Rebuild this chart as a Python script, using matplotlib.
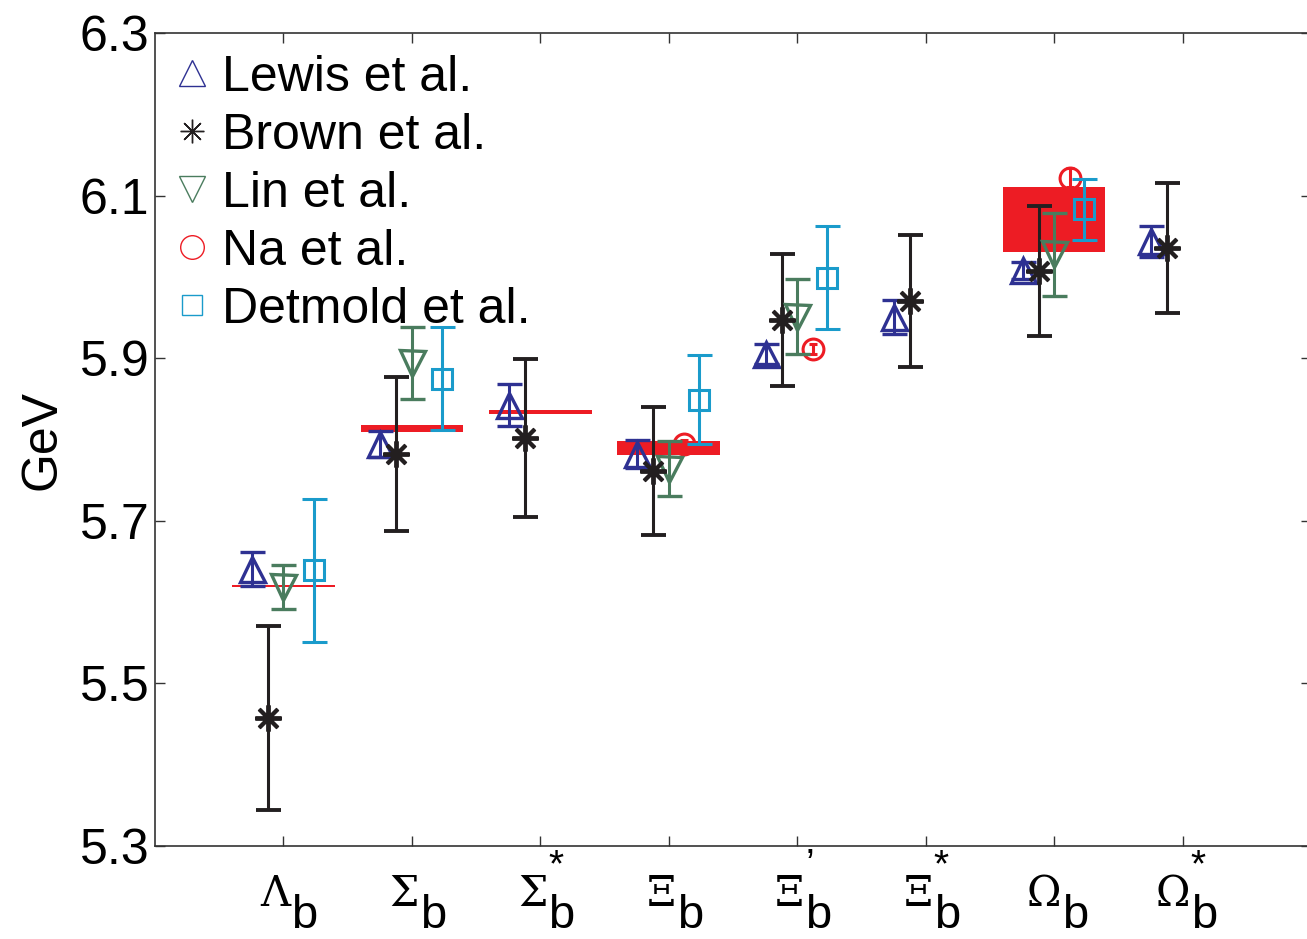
import numpy as np
import matplotlib
matplotlib.use("Agg")
import matplotlib.pyplot as plt
from matplotlib.lines import Line2D

plt.rcParams['font.family'] = ['Liberation Sans', 'DejaVu Sans']

# Baryon categories (Greek letter, superscript mark)
greek = ['Λ', 'Σ', 'Σ', 'Ξ', 'Ξ', 'Ξ', 'Ω', 'Ω']
marks = ['', '', '*', '', '’', '*', '', '*']
pos = np.arange(1, 9)

# Lattice results (GeV): value and uncertainty; NaN where no result
lewis_val = [5.641, 5.795, 5.842, 5.782, 5.905, 5.951, 6.008, 6.044]
lewis_err = [0.021, 0.016, 0.026, 0.017, 0.012, 0.021, 0.010, 0.019]

brown_val = [5.457, 5.782, 5.802, 5.761, 5.947, 5.970, 6.007, 6.036]
brown_err = [0.113, 0.095, 0.097, 0.079, 0.081, 0.081, 0.080, 0.080]

lin_val = [5.619, 5.894, np.nan, 5.764, 5.951, np.nan, 6.028, np.nan]
lin_err = [0.027, 0.044, np.nan, 0.034, 0.046, np.nan, 0.051, np.nan]

na_val = [np.nan, np.nan, np.nan, 5.795, 5.911, np.nan, 6.122, np.nan]
na_err = [np.nan, np.nan, np.nan, 0.005, 0.006, np.nan, 0.012, np.nan]

detmold_val = [5.639, 5.875, np.nan, 5.849, 5.999, np.nan, 6.083, np.nan]
detmold_err = [0.088, 0.063, np.nan, 0.055, 0.063, np.nan, 0.037, np.nan]

# Experimental masses (GeV): centre and half-width of the band
exp_val = [5.620, 5.813, 5.834, 5.790, np.nan, np.nan, 6.071, np.nan]
exp_half = [0.0012, 0.0043, 0.0025, 0.0085, np.nan, np.nan, 0.040, np.nan]

c_lewis = '#2E3192'
c_brown = '#231F20'
c_lin = '#4A7C5E'
c_na = '#ED1C24'
c_det = '#1A9BCB'
c_exp = '#ED1C24'

fig = plt.figure(figsize=(13.07, 9.39), dpi=100)
ax = fig.add_axes([155 / 1307, 93 / 939, 1156 / 1307, 813 / 939])

# experimental bands
ev = np.array(exp_val)
eh = np.array(exp_half)
ok = ~np.isnan(ev)
ax.bar(pos[ok], 2 * eh[ok], bottom=ev[ok] - eh[ok], width=0.8,
       color=c_exp, linewidth=0, zorder=2)

eb_kw = dict(linestyle='none', capsize=9, elinewidth=2.2, capthick=2.2,
             mfc='none')

ax.errorbar(pos - 0.245, lewis_val, yerr=lewis_err, marker='^', ms=18,
            mew=2.4, color=c_lewis, zorder=3, **eb_kw)
ax.errorbar(pos - 0.12, brown_val, yerr=brown_err, marker=(8, 2, 0), ms=19,
            mew=2.8, color=c_brown, zorder=3.1, **eb_kw)
ax.errorbar(pos, lin_val, yerr=lin_err, marker='v', ms=18,
            mew=2.4, color=c_lin, zorder=3, **eb_kw)
ax.errorbar(pos + 0.12, na_val, yerr=na_err, marker='o', ms=15,
            mew=2.2, color=c_na, zorder=1.5, linestyle='none', capsize=3,
            elinewidth=2.2, capthick=2.2, mfc='none')
ax.errorbar(pos + 0.235, detmold_val, yerr=detmold_err, marker='s', ms=14,
            mew=2.2, color=c_det, zorder=3, **eb_kw)

ax.set_xlim(0, 9)
ax.set_ylim(5.3, 6.3)
yt = np.arange(5.3, 6.31, 0.2)
ax.set_yticks(yt)
ax.set_yticklabels([f'{v:.1f}' for v in yt])
ax.set_xticks(pos)
ax.set_xticklabels([])
ax.tick_params(direction='in', length=7, width=1.0, top=True, right=True,
               labelsize=36, pad=4, color='#333333')
for sp in ax.spines.values():
    sp.set_linewidth(1.2)
    sp.set_color('#333333')

ax.set_ylabel('GeV', fontsize=36, labelpad=10)

# category labels: serif Greek letter, sans subscript b, optional mark
for p, g, m in zip(pos, greek, marks):
    ax.annotate(g, xy=(p, 0), xycoords=('data', 'axes fraction'),
                xytext=(7, -60), textcoords='offset pixels', ha='right',
                va='baseline', fontsize=30, family='DejaVu Serif')
    ax.annotate('b', xy=(p, 0), xycoords=('data', 'axes fraction'),
                xytext=(8, -82), textcoords='offset pixels', ha='left',
                va='baseline', fontsize=34)
    if m:
        ax.annotate(m, xy=(p, 0), xycoords=('data', 'axes fraction'),
                    xytext=(8, -30), textcoords='offset pixels', ha='left',
                    va='baseline', fontsize=28)

handles = [
    Line2D([], [], ls='none', marker='^', ms=19, mew=1.0, mfc='none', color=c_lewis),
    Line2D([], [], ls='none', marker=(8, 2, 0), ms=17, mew=1.0, color=c_brown),
    Line2D([], [], ls='none', marker='v', ms=19, mew=1.0, mfc='none', color=c_lin),
    Line2D([], [], ls='none', marker='o', ms=17, mew=1.0, mfc='none', color=c_na),
    Line2D([], [], ls='none', marker='s', ms=14, mew=1.0, mfc='none', color=c_det),
]
labels = ['Lewis et al.', 'Brown et al.', 'Lin et al.', 'Na et al.', 'Detmold et al.']
ax.legend(handles, labels, loc='upper left', bbox_to_anchor=(0.0145, 0.973),
          frameon=False, fontsize=36, handlelength=0.8, handletextpad=0.2,
          labelspacing=0.24, borderaxespad=0, borderpad=0)

fig.savefig('out.png', dpi=100)
